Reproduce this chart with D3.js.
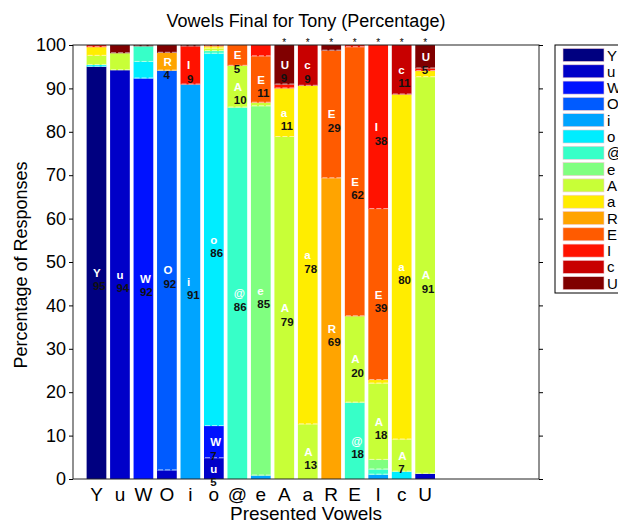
<!DOCTYPE html>
<html>
<head>
<meta charset="utf-8">
<script src="https://cdn.jsdelivr.net/npm/d3@7"></script>
<style>
  body { margin: 0; background: #fff; }
  svg { display: block; font-family: "Liberation Sans", Arial, Helvetica, sans-serif; }
</style>
</head>
<body>
<div id="chart"></div>
<script>
// Response categories (stack order, bottom to top) and presented vowels (x axis)
const vowels = ['Y', 'u', 'W', 'O', 'i', 'o', '@', 'e', 'A', 'a', 'R', 'E', 'I', 'c', 'U'];
const presented = ['Y', 'u', 'W', 'O', 'i', 'o', '@', 'e', 'A', 'a', 'R', 'E', 'I', 'c', 'U'];

// Percentage of each response (columns follow `vowels`) for each presented vowel
const respY = [95, 0, 0, 0, 0, 0.4, 0, 0, 2.1, 2.0, 0, 0, 0.5, 0, 0];
const respu = [0, 94.2, 0, 0, 0, 0, 0, 0, 3.9, 0, 0, 0, 0, 0, 1.9];
const respW = [0, 0, 92.3, 0, 0, 3.8, 3.6, 0, 0, 0, 0, 0, 0, 0, 0.3];
const respO = [0, 2, 0, 92.1, 0, 0, 0, 0, 0, 0, 4.1, 0, 0, 0, 1.8];
const respi = [0, 0, 0, 0, 90.9, 0, 0, 0, 0, 0, 0, 0, 8.8, 0, 0.3];
const respo = [0, 4.8, 7.4, 0, 0, 85.8, 0.6, 0, 0.6, 0.5, 0, 0, 0.3, 0, 0];
const respAt = [0, 0, 0, 0, 0, 0, 85.6, 0, 9.6, 0, 0, 4.8, 0, 0, 0];
const respe = [0, 0, 0, 0, 0.8, 0, 0, 85.1, 0.8, 0, 0, 10.7, 2.6, 0, 0];
const respA = [0, 0, 0, 0, 0, 0, 0, 0, 78.8, 11.2, 0, 0, 0.9, 0, 9.1];
const respa = [0, 0, 0, 0, 0, 0, 0, 0, 12.6, 78, 0, 0, 0, 9.4, 0];
const respR = [0, 0, 0, 0, 0, 0, 0, 0, 0, 0, 69.3, 29.4, 0, 0, 1.3];
const respE = [0, 0, 0, 0, 0, 0, 17.6, 0, 19.9, 0, 0, 62, 0.5, 0, 0];
const respI = [0, 0, 0, 0, 1, 0, 1.2, 2.2, 17.6, 0.8, 0, 39.4, 37.8, 0, 0];
const respc = [0, 0, 0, 0, 0, 1.7, 0, 0, 7.4, 79.5, 0, 0, 0, 11.4, 0];
const respU = [0, 1.2, 0, 0, 0, 0, 0, 0, 91.4, 1.4, 0, 0, 0.6, 0, 5.4];
const responses = [respY, respu, respW, respO, respi, respo, respAt, respe,
  respA, respa, respR, respE, respI, respc, respU];

// bars marked with an asterisk above
const starred = ['A', 'a', 'R', 'E', 'I', 'c', 'U'];
const yTicks = [0, 10, 20, 30, 40, 50, 60, 70, 80, 90, 100];

const width = 618;
const height = 523;
const m = { left: 73, top: 45, right: 539, bottom: 479 };
const labelMin = 4;

// MATLAB jet colormap sampled at 15 levels
function jet(t) {
  const c = v => Math.max(0, Math.min(1, v));
  const r = c(Math.min(4 * t - 1.5, -4 * t + 4.5));
  const g = c(Math.min(4 * t - 0.5, -4 * t + 3.5));
  const b = c(Math.min(4 * t + 0.5, -4 * t + 2.5));
  return d3.rgb(r * 255, g * 255, b * 255).formatHex();
}
const color = d3.scaleOrdinal().domain(vowels).range(vowels.map((v, i) => jet(i / (vowels.length - 1))));

const svg = d3.select('#chart').append('svg')
  .attr('width', width)
  .attr('height', height);

const x = d3.scaleLinear().domain([0, 19.85]).range([m.left, m.right]);
const y = d3.scaleLinear().domain([0, 100]).range([m.bottom, m.top]);
const barW = (x(1) - x(0)) * 0.84;

// stacked segments
const segs = [];
responses.forEach((row, bi) => {
  let acc = 0;
  row.forEach((v, ci) => {
    if (v > 0) segs.push({ bar: bi, cat: vowels[ci], y0: acc, y1: acc + v, v });
    acc += v;
  });
});

const bars = svg.append('g');
bars.selectAll('rect')
  .data(segs)
  .join('rect')
  .attr('x', d => x(d.bar + 1) - barW / 2)
  .attr('y', d => y(d.y1))
  .attr('width', barW)
  .attr('height', d => y(d.y0) - y(d.y1))
  .attr('fill', d => color(d.cat));

// light dashed edges at segment boundaries
bars.selectAll('line')
  .data(segs.filter(d => d.y1 < 99.9))
  .join('line')
  .attr('x1', d => x(d.bar + 1) - barW / 2 + 1)
  .attr('x2', d => x(d.bar + 1) + barW / 2)
  .attr('y1', d => y(d.y1) - 0.5)
  .attr('y2', d => y(d.y1) - 0.5)
  .attr('stroke', '#fff')
  .attr('stroke-opacity', 0.6)
  .attr('stroke-dasharray', '5,2');

// segment labels: letter at mid, value below
const lab = segs.filter(d => d.v >= labelMin);
const labels = svg.append('g').attr('font-size', 11.5).attr('font-weight', 'bold');
labels.selectAll('text.l')
  .data(lab)
  .join('text')
  .attr('class', 'l')
  .attr('x', d => x(d.bar + 1) - 3.5)
  .attr('y', d => y((d.y0 + d.y1) / 2) + 4)
  .attr('fill', '#fff')
  .text(d => d.cat);
labels.selectAll('text.n')
  .data(lab)
  .join('text')
  .attr('class', 'n')
  .attr('x', d => x(d.bar + 1) - 3.5)
  .attr('y', d => y((d.y0 + d.y1) / 2) + 17.5)
  .attr('fill', '#111')
  .text(d => Math.round(d.v));

// axes box
svg.append('rect')
  .attr('x', m.left).attr('y', m.top)
  .attr('width', m.right - m.left).attr('height', m.bottom - m.top)
  .attr('fill', 'none').attr('stroke', '#222').attr('stroke-width', 1);

const yAxis = svg.append('g')
  .attr('transform', `translate(${m.left},0)`)
  .call(d3.axisLeft(y).tickValues(yTicks).tickSize(4).tickPadding(3));
yAxis.select('.domain').remove();
yAxis.selectAll('text').attr('font-size', 18).attr('font-family', 'Liberation Sans, Arial, sans-serif').attr('fill', '#000');

const yAxisR = svg.append('g')
  .attr('transform', `translate(${m.right},0)`)
  .call(d3.axisRight(y).tickValues(yTicks).tickSize(4).tickFormat(''));
yAxisR.select('.domain').remove();

// x tick labels
svg.append('g').selectAll('text')
  .data(presented)
  .join('text')
  .attr('x', (d, i) => x(i + 1))
  .attr('y', m.bottom + 22)
  .attr('text-anchor', 'middle')
  .attr('font-size', 19)
  .text(d => d);

// asterisks
svg.append('g').selectAll('text')
  .data(starred)
  .join('text')
  .attr('x', d => x(presented.indexOf(d) + 1))
  .attr('y', m.top + 1)
  .attr('text-anchor', 'middle')
  .attr('font-size', 10)
  .text('*');

// titles
svg.append('text')
  .attr('x', (m.left + m.right) / 2).attr('y', 27)
  .attr('text-anchor', 'middle').attr('font-size', 18)
  .text('Vowels Final for Tony (Percentage)');
svg.append('text')
  .attr('x', (m.left + m.right) / 2).attr('y', 520)
  .attr('text-anchor', 'middle').attr('font-size', 19)
  .text('Presented Vowels');
svg.append('text')
  .attr('transform', `translate(27,${(m.top + m.bottom) / 2 + 3}) rotate(-90)`)
  .attr('text-anchor', 'middle').attr('font-size', 18)
  .text('Percentage of Responses');

// legend
const leg = svg.append('g');
leg.append('rect')
  .attr('x', 555).attr('y', 45).attr('width', 80).attr('height', 248)
  .attr('fill', '#fff').attr('stroke', '#000');
const item = leg.selectAll('g')
  .data(vowels)
  .join('g')
  .attr('transform', (d, i) => `translate(563,${55 + i * 16.3})`);
item.append('rect')
  .attr('x', 0).attr('y', -6.5).attr('width', 41).attr('height', 13)
  .attr('fill', d => color(d))
  .attr('stroke', '#f0c8d0').attr('stroke-width', 0.6);
item.append('text')
  .attr('x', 44).attr('y', 5.5)
  .attr('font-size', 15)
  .text(d => d);
</script>
</body>
</html>
